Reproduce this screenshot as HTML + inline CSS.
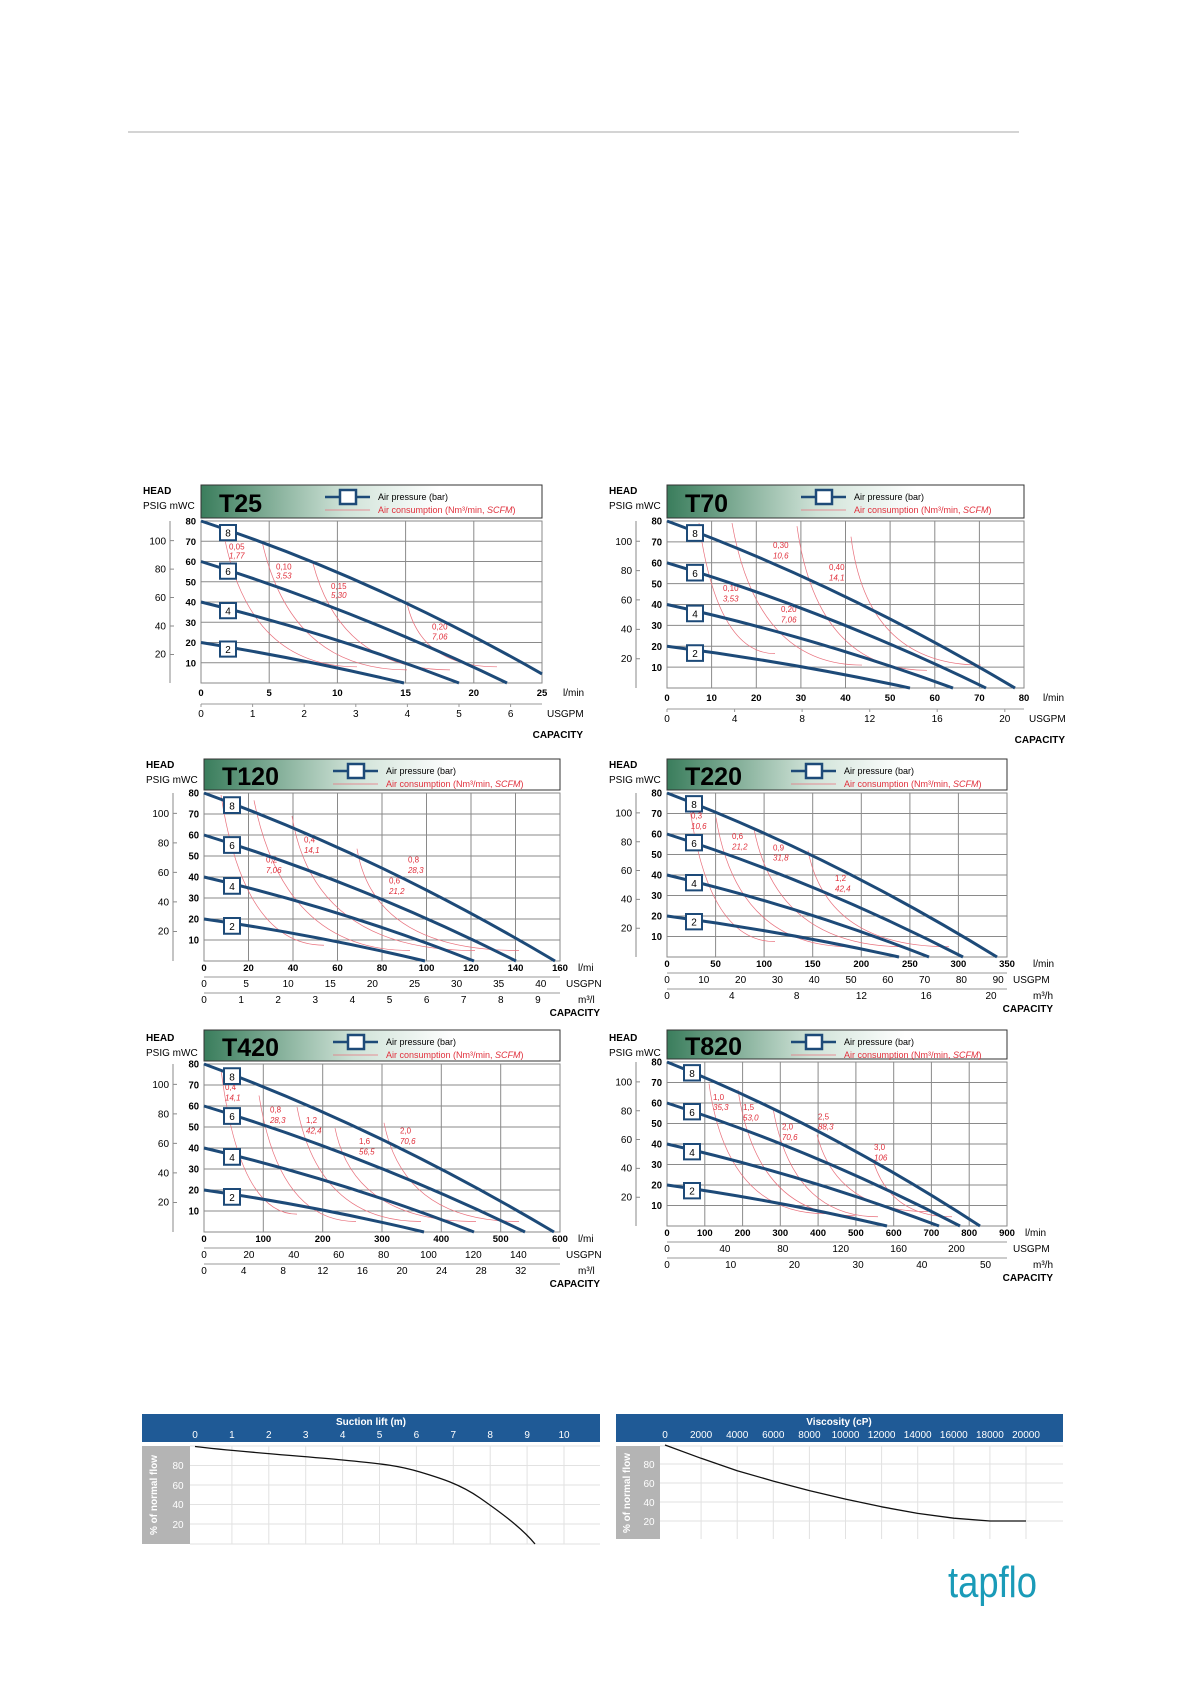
<!DOCTYPE html>
<html><head><meta charset="utf-8"><style>
html,body{margin:0;padding:0;background:#fff}
svg{display:block;font-family:"Liberation Sans",sans-serif}
.hd{font-size:10px;font-weight:bold}
.sm{font-size:10px}
.tt{font-size:25px;font-weight:bold}
.lg{font-size:9px}
.lr{font-size:9px;fill:#e0303c}
.yl{font-size:9.5px;font-weight:bold;text-anchor:end}
.pl{font-size:10px;text-anchor:end}
.xl{font-size:9.5px;font-weight:bold;text-anchor:middle}
.ul{font-size:10px;text-anchor:middle}
.un{font-size:10px}
.cap{font-size:10px;font-weight:bold;text-anchor:end}
.rl{font-size:8px;fill:#e0303c}
.bx{font-size:10px;text-anchor:middle}
.g{stroke:#8a8a8a;stroke-width:1;fill:none;vector-effect:non-scaling-stroke}
.c{stroke:#1d4a78;stroke-width:3;fill:none;vector-effect:non-scaling-stroke}
.r{stroke:#e8707c;stroke-width:.7;fill:none;vector-effect:non-scaling-stroke}
.bxr{fill:#fff;stroke:#1d4a78;stroke-width:2;vector-effect:non-scaling-stroke}
.wt{fill:#fff;font-size:10px;text-anchor:middle}
.gl{stroke:#e2e2e2;stroke-width:1;fill:none}
</style></head><body>
<svg width="1191" height="1684" viewBox="0 0 1191 1684" xmlns="http://www.w3.org/2000/svg">
<defs>
<linearGradient id="hg" x1="0" x2="1" y1="0" y2="0"><stop offset="0" stop-color="#3a7d5c"/><stop offset=".42" stop-color="#cfe2d7"/><stop offset=".7" stop-color="#fff"/></linearGradient>
<g id="leg">
<line x1="124" y1="12" x2="169" y2="12" stroke="#1d4a78" stroke-width="2.5"/>
<rect x="139" y="5" width="16" height="14" fill="#fff" stroke="#1d4a78" stroke-width="2.5"/>
<text x="177" y="15" class="lg">Air pressure (bar)</text>
<line x1="124" y1="25" x2="169" y2="25" stroke="#e8707c" stroke-width=".7"/>
<text x="177" y="28" class="lr">Air consumption (Nm³/min, <tspan font-style="italic">SCFM</tspan>)</text>
</g>
<g id="yax">
<text x="-5" y="3.5" class="yl">80</text><text x="-5" y="23.5" class="yl">70</text><text x="-5" y="43.5" class="yl">60</text><text x="-5" y="63.5" class="yl">50</text><text x="-5" y="83.5" class="yl">40</text><text x="-5" y="103.5" class="yl">30</text><text x="-5" y="123.5" class="yl">20</text><text x="-5" y="143.5" class="yl">10</text>
<path class="g" d="M-31,0V160M-31,19.4h4M-31,47.5h4M-31,75.6h4M-31,103.75h4M-31,131.9h4" stroke="#999"/>
<text x="-35" y="23" class="pl">100</text><text x="-35" y="51" class="pl">80</text><text x="-35" y="79" class="pl">60</text><text x="-35" y="107" class="pl">40</text><text x="-35" y="135" class="pl">20</text>
</g>
</defs>

<line x1="128" y1="132" x2="1019" y2="132" stroke="#aaa" stroke-width="1"/>

<!-- T25 -->
<g transform="translate(201,485)">
<text x="-58" y="9" class="hd">HEAD</text><text x="-58" y="24" class="sm">PSIG  mWC</text>
<rect x="0" y="0" width="341" height="33" fill="url(#hg)" stroke="#333"/>
<text x="18" y="27" class="tt">T25</text>
<use href="#leg"/>
<g transform="translate(0,36) scale(1,1.0125)">
<rect x="0" y="0" width="341" height="160" fill="#fff" class="g" stroke="#333"/>
<path class="g" d="M0,20H341M0,40H341M0,60H341M0,80H341M0,100H341M0,120H341M0,140H341M68.2,0V160M136.4,0V160M204.6,0V160M272.8,0V160"/>
<use href="#yax"/>
<path class="r" d="M24,19Q50,144 156,144M61,20Q90,147 206,147M112,42Q140,147 249,147M206,81Q220,144 296,144"/>
<text x="28" y="28" class="rl">0,05</text><text x="28" y="37" class="rl" font-style="italic">1,77</text>
<text x="75" y="48" class="rl">0,10</text><text x="75" y="57" class="rl" font-style="italic">3,53</text>
<text x="130" y="67" class="rl">0,15</text><text x="130" y="76" class="rl" font-style="italic">5,30</text>
<text x="231" y="107" class="rl">0,20</text><text x="231" y="117" class="rl" font-style="italic">7,06</text>
<path class="c" d="M0,0Q170,55 341,151M0,40Q153,87 306,160M0,80Q129,111 258,160M0,120Q101,136 203,160"/>
<rect x="19" y="4" width="16" height="15" class="bxr"/><text x="27" y="15.5" class="bx">8</text>
<rect x="19" y="42" width="16" height="15" class="bxr"/><text x="27" y="53.5" class="bx">6</text>
<rect x="19" y="81" width="16" height="15" class="bxr"/><text x="27" y="92.5" class="bx">4</text>
<rect x="19" y="119" width="16" height="15" class="bxr"/><text x="27" y="130.5" class="bx">2</text>
</g>
<g transform="translate(0,198)">
<text x="0" y="13" class="xl">0</text><text x="68.2" y="13" class="xl">5</text><text x="136.4" y="13" class="xl">10</text><text x="204.6" y="13" class="xl">15</text><text x="272.8" y="13" class="xl">20</text><text x="341" y="13" class="xl">25</text><text x="362" y="13" class="un">l/min</text>
<path d="M0,21H341M0,21v3M51.6,21v3M103.2,21v3M154.8,21v3M206.4,21v3M258,21v3M309.6,21v3" stroke="#999" fill="none"/>
<text x="0" y="34" class="ul">0</text><text x="51.6" y="34" class="ul">1</text><text x="103.2" y="34" class="ul">2</text><text x="154.8" y="34" class="ul">3</text><text x="206.4" y="34" class="ul">4</text><text x="258" y="34" class="ul">5</text><text x="309.6" y="34" class="ul">6</text><text x="346" y="34" class="un">USGPM</text>
<text x="382" y="55" class="cap">CAPACITY</text>
</g>
</g>

<!-- T70 -->
<g transform="translate(667,485)">
<text x="-58" y="9" class="hd">HEAD</text><text x="-58" y="24" class="sm">PSIG  mWC</text>
<rect x="0" y="0" width="357" height="33" fill="url(#hg)" stroke="#333"/>
<text x="18" y="27" class="tt">T70</text>
<use href="#leg" transform="translate(10,0)"/>
<g transform="translate(0,36) scale(1,1.044)">
<rect x="0" y="0" width="357" height="160" fill="#fff" class="g" stroke="#333"/>
<path class="g" d="M0,20H357M0,40H357M0,60H357M0,80H357M0,100H357M0,120H357M0,140H357M44.6,0V160M89.3,0V160M133.9,0V160M178.5,0V160M223.1,0V160M267.8,0V160M312.4,0V160"/>
<use href="#yax"/>
<path class="r" d="M32,2Q50,127 108,127M65,2Q90,138 195,138M130,5Q150,143 260,143M184,15Q200,138 314,138"/>
<text x="106" y="26" class="rl">0,30</text><text x="106" y="36" class="rl" font-style="italic">10,6</text>
<text x="162" y="47" class="rl">0,40</text><text x="162" y="57" class="rl" font-style="italic">14,1</text>
<text x="56" y="67" class="rl">0,10</text><text x="56" y="77" class="rl" font-style="italic">3,53</text>
<text x="114" y="87" class="rl">0,20</text><text x="114" y="97" class="rl" font-style="italic">7,06</text>
<path class="c" d="M0,0Q174,61 348,160M0,40Q160,86 319,160M0,80Q143,110 286,160M0,120Q122,135 243,160"/>
<rect x="20" y="4" width="16" height="15" class="bxr"/><text x="28" y="15.5" class="bx">8</text>
<rect x="20" y="42" width="16" height="15" class="bxr"/><text x="28" y="53.5" class="bx">6</text>
<rect x="20" y="81" width="16" height="15" class="bxr"/><text x="28" y="92.5" class="bx">4</text>
<rect x="20" y="119" width="16" height="15" class="bxr"/><text x="28" y="130.5" class="bx">2</text>
</g>
<g transform="translate(0,203)">
<text x="0" y="13" class="xl">0</text><text x="44.6" y="13" class="xl">10</text><text x="89.3" y="13" class="xl">20</text><text x="133.9" y="13" class="xl">30</text><text x="178.5" y="13" class="xl">40</text><text x="223.1" y="13" class="xl">50</text><text x="267.8" y="13" class="xl">60</text><text x="312.4" y="13" class="xl">70</text><text x="357" y="13" class="xl">80</text><text x="376" y="13" class="un">l/min</text>
<path d="M0,21H357M0,21v3M67.6,21v3M135.1,21v3M202.7,21v3M270.2,21v3M337.8,21v3" stroke="#999" fill="none"/>
<text x="0" y="34" class="ul">0</text><text x="67.6" y="34" class="ul">4</text><text x="135.1" y="34" class="ul">8</text><text x="202.7" y="34" class="ul">12</text><text x="270.2" y="34" class="ul">16</text><text x="337.8" y="34" class="ul">20</text><text x="362" y="34" class="un">USGPM</text>
<text x="398" y="55" class="cap">CAPACITY</text>
</g>
</g>

<!-- T120 -->
<g transform="translate(204,759)">
<text x="-58" y="9" class="hd">HEAD</text><text x="-58" y="24" class="sm">PSIG  mWC</text>
<rect x="0" y="0" width="356" height="31" fill="url(#hg)" stroke="#333"/>
<text x="18" y="26" class="tt">T120</text>
<use href="#leg" transform="translate(5,0)"/>
<g transform="translate(0,34) scale(1,1.05)">
<rect x="0" y="0" width="356" height="160" fill="#fff" class="g" stroke="#333"/>
<path class="g" d="M0,20H356M0,40H356M0,60H356M0,80H356M0,100H356M0,120H356M0,140H356M44.5,0V160M89,0V160M133.5,0V160M178,0V160M222.5,0V160M267,0V160M311.5,0V160"/>
<use href="#yax"/>
<path class="r" d="M17,2Q40,145 120,145M50,7Q80,150 206,150M88,22Q110,150 271,150M153,53Q170,150 315,150"/>
<text x="100" y="47" class="rl">0,4</text><text x="100" y="57" class="rl" font-style="italic">14,1</text>
<text x="204" y="66" class="rl">0,8</text><text x="204" y="76" class="rl" font-style="italic">28,3</text>
<text x="62" y="66" class="rl">0,2</text><text x="62" y="76" class="rl" font-style="italic">7,06</text>
<text x="185" y="86" class="rl">0,6</text><text x="185" y="96" class="rl" font-style="italic">21,2</text>
<path class="c" d="M0,0Q176,61 351,160M0,40Q157,86 312,160M0,80Q136,110 270,160M0,120Q111,135 221,160"/>
<rect x="20" y="4" width="16" height="15" class="bxr"/><text x="28" y="15.5" class="bx">8</text>
<rect x="20" y="42" width="16" height="15" class="bxr"/><text x="28" y="53.5" class="bx">6</text>
<rect x="20" y="81" width="16" height="15" class="bxr"/><text x="28" y="92.5" class="bx">4</text>
<rect x="20" y="119" width="16" height="15" class="bxr"/><text x="28" y="130.5" class="bx">2</text>
</g>
<g transform="translate(0,202)">
<text x="0" y="10" class="xl">0</text><text x="44.5" y="10" class="xl">20</text><text x="89" y="10" class="xl">40</text><text x="133.5" y="10" class="xl">60</text><text x="178" y="10" class="xl">80</text><text x="222.5" y="10" class="xl">100</text><text x="267" y="10" class="xl">120</text><text x="311.5" y="10" class="xl">140</text><text x="356" y="10" class="xl">160</text><text x="374" y="10" class="un">l/mi</text>
<path d="M0,16H356M0,32H356" stroke="#999" fill="none"/>
<text x="0" y="26" class="ul">0</text><text x="42.1" y="26" class="ul">5</text><text x="84.2" y="26" class="ul">10</text><text x="126.3" y="26" class="ul">15</text><text x="168.4" y="26" class="ul">20</text><text x="210.5" y="26" class="ul">25</text><text x="252.6" y="26" class="ul">30</text><text x="294.7" y="26" class="ul">35</text><text x="336.8" y="26" class="ul">40</text><text x="362" y="26" class="un">USGPN</text>
<text x="0" y="42" class="ul">0</text><text x="37.1" y="42" class="ul">1</text><text x="74.2" y="42" class="ul">2</text><text x="111.3" y="42" class="ul">3</text><text x="148.4" y="42" class="ul">4</text><text x="185.5" y="42" class="ul">5</text><text x="222.6" y="42" class="ul">6</text><text x="259.7" y="42" class="ul">7</text><text x="296.8" y="42" class="ul">8</text><text x="333.9" y="42" class="ul">9</text><text x="374" y="42" class="un">m³/l</text>
<text x="396" y="55" class="cap">CAPACITY</text>
</g>
</g>

<!-- T220 -->
<g transform="translate(667,759)">
<text x="-58" y="9" class="hd">HEAD</text><text x="-58" y="24" class="sm">PSIG  mWC</text>
<rect x="0" y="0" width="340" height="31" fill="url(#hg)" stroke="#333"/>
<text x="18" y="26" class="tt">T220</text>
<use href="#leg"/>
<g transform="translate(0,34) scale(1,1.025)">
<rect x="0" y="0" width="340" height="160" fill="#fff" class="g" stroke="#333"/>
<path class="g" d="M0,20H340M0,40H340M0,60H340M0,80H340M0,100H340M0,120H340M0,140H340M48.6,0V160M97.1,0V160M145.7,0V160M194.3,0V160M242.9,0V160M291.4,0V160"/>
<use href="#yax"/>
<path class="r" d="M22,8Q40,145 108,145M49,24Q70,150 184,150M87,35Q110,150 238,150M141,56Q160,150 282,150"/>
<text x="24" y="25" class="rl">0,3</text><text x="24" y="35" class="rl" font-style="italic">10,6</text>
<text x="65" y="45" class="rl">0,6</text><text x="65" y="55" class="rl" font-style="italic">21,2</text>
<text x="106" y="56" class="rl">0,9</text><text x="106" y="66" class="rl" font-style="italic">31,8</text>
<text x="168" y="86" class="rl">1,2</text><text x="168" y="96" class="rl" font-style="italic">42,4</text>
<path class="c" d="M0,0Q165,61 330,160M0,40Q148,86 296,160M0,80Q131,110 262,160M0,120Q116,135 232,160"/>
<rect x="19" y="3" width="16" height="15" class="bxr"/><text x="27" y="14.5" class="bx">8</text>
<rect x="19" y="41" width="16" height="15" class="bxr"/><text x="27" y="52.5" class="bx">6</text>
<rect x="19" y="80" width="16" height="15" class="bxr"/><text x="27" y="91.5" class="bx">4</text>
<rect x="19" y="118" width="16" height="15" class="bxr"/><text x="27" y="129.5" class="bx">2</text>
</g>
<g transform="translate(0,198)">
<text x="0" y="10" class="xl">0</text><text x="48.6" y="10" class="xl">50</text><text x="97.1" y="10" class="xl">100</text><text x="145.7" y="10" class="xl">150</text><text x="194.3" y="10" class="xl">200</text><text x="242.9" y="10" class="xl">250</text><text x="291.4" y="10" class="xl">300</text><text x="340" y="10" class="xl">350</text><text x="366" y="10" class="un">l/min</text>
<path d="M0,16H340M0,32H340" stroke="#999" fill="none"/>
<text x="0" y="26" class="ul">0</text><text x="36.8" y="26" class="ul">10</text><text x="73.6" y="26" class="ul">20</text><text x="110.4" y="26" class="ul">30</text><text x="147.2" y="26" class="ul">40</text><text x="184" y="26" class="ul">50</text><text x="220.8" y="26" class="ul">60</text><text x="257.6" y="26" class="ul">70</text><text x="294.4" y="26" class="ul">80</text><text x="331.2" y="26" class="ul">90</text><text x="346" y="26" class="un">USGPM</text>
<text x="0" y="42" class="ul">0</text><text x="64.8" y="42" class="ul">4</text><text x="129.6" y="42" class="ul">8</text><text x="194.4" y="42" class="ul">12</text><text x="259.2" y="42" class="ul">16</text><text x="324" y="42" class="ul">20</text><text x="366" y="42" class="un">m³/h</text>
<text x="386" y="55" class="cap">CAPACITY</text>
</g>
</g>

<!-- T420 -->
<g transform="translate(204,1030)">
<text x="-58" y="11" class="hd">HEAD</text><text x="-58" y="26" class="sm">PSIG  mWC</text>
<rect x="0" y="0" width="356" height="31" fill="url(#hg)" stroke="#333"/>
<text x="18" y="26" class="tt">T420</text>
<use href="#leg" transform="translate(5,0)"/>
<g transform="translate(0,34) scale(1,1.05)">
<rect x="0" y="0" width="356" height="160" fill="#fff" class="g" stroke="#333"/>
<path class="g" d="M0,20H356M0,40H356M0,60H356M0,80H356M0,100H356M0,120H356M0,140H356M59.3,0V160M118.7,0V160M178,0V160M237.3,0V160M296.7,0V160"/>
<use href="#yax"/>
<path class="r" d="M17,5Q35,143 93,143M55,30Q75,150 152,150M93,41Q115,150 217,150M131,61Q150,150 272,150M180,56Q200,150 315,150"/>
<text x="21" y="25" class="rl">0,4</text><text x="21" y="35" class="rl" font-style="italic">14,1</text>
<text x="66" y="46" class="rl">0,8</text><text x="66" y="56" class="rl" font-style="italic">28,3</text>
<text x="102" y="56" class="rl">1,2</text><text x="102" y="66" class="rl" font-style="italic">42,4</text>
<text x="155" y="76" class="rl">1,6</text><text x="155" y="86" class="rl" font-style="italic">56,5</text>
<text x="196" y="66" class="rl">2,0</text><text x="196" y="76" class="rl" font-style="italic">70,6</text>
<path class="c" d="M0,0Q175,61 350,160M0,40Q160,86 321,160M0,80Q135,110 270,160M0,120Q110,135 220,160"/>
<rect x="20" y="4" width="16" height="15" class="bxr"/><text x="28" y="15.5" class="bx">8</text>
<rect x="20" y="42" width="16" height="15" class="bxr"/><text x="28" y="53.5" class="bx">6</text>
<rect x="20" y="81" width="16" height="15" class="bxr"/><text x="28" y="92.5" class="bx">4</text>
<rect x="20" y="119" width="16" height="15" class="bxr"/><text x="28" y="130.5" class="bx">2</text>
</g>
<g transform="translate(0,202)">
<text x="0" y="10" class="xl">0</text><text x="59.3" y="10" class="xl">100</text><text x="118.7" y="10" class="xl">200</text><text x="178" y="10" class="xl">300</text><text x="237.3" y="10" class="xl">400</text><text x="296.7" y="10" class="xl">500</text><text x="356" y="10" class="xl">600</text><text x="374" y="10" class="un">l/mi</text>
<path d="M0,16H356M0,32H356" stroke="#999" fill="none"/>
<text x="0" y="26" class="ul">0</text><text x="44.9" y="26" class="ul">20</text><text x="89.8" y="26" class="ul">40</text><text x="134.7" y="26" class="ul">60</text><text x="179.6" y="26" class="ul">80</text><text x="224.5" y="26" class="ul">100</text><text x="269.4" y="26" class="ul">120</text><text x="314.3" y="26" class="ul">140</text><text x="362" y="26" class="un">USGPN</text>
<text x="0" y="42" class="ul">0</text><text x="39.6" y="42" class="ul">4</text><text x="79.2" y="42" class="ul">8</text><text x="118.8" y="42" class="ul">12</text><text x="158.4" y="42" class="ul">16</text><text x="198" y="42" class="ul">20</text><text x="237.6" y="42" class="ul">24</text><text x="277.2" y="42" class="ul">28</text><text x="316.8" y="42" class="ul">32</text><text x="374" y="42" class="un">m³/l</text>
<text x="396" y="55" class="cap">CAPACITY</text>
</g>
</g>

<!-- T820 -->
<g transform="translate(667,1030)">
<text x="-58" y="11" class="hd">HEAD</text><text x="-58" y="26" class="sm">PSIG  mWC</text>
<rect x="0" y="0" width="340" height="29" fill="url(#hg)" stroke="#333"/>
<text x="18" y="25" class="tt">T820</text>
<use href="#leg"/>
<g transform="translate(0,32) scale(1,1.025)">
<rect x="0" y="0" width="340" height="160" fill="#fff" class="g" stroke="#333"/>
<path class="g" d="M0,20H340M0,40H340M0,60H340M0,80H340M0,100H340M0,120H340M0,140H340M37.8,0V160M75.6,0V160M113.3,0V160M151.1,0V160M188.9,0V160M226.7,0V160M264.4,0V160M302.2,0V160"/>
<use href="#yax"/>
<path class="r" d="M42,21Q60,148 158,148M71,27Q90,150 188,150M106,45Q125,151 211,151M150,71Q170,146 261,146M207,99Q225,151 285,151"/>
<text x="46" y="37" class="rl">1,0</text><text x="46" y="47" class="rl" font-style="italic">35,3</text>
<text x="76" y="47" class="rl">1,5</text><text x="76" y="57" class="rl" font-style="italic">53,0</text>
<text x="115" y="66" class="rl">2,0</text><text x="115" y="76" class="rl" font-style="italic">70,6</text>
<text x="151" y="56" class="rl">2,5</text><text x="151" y="66" class="rl" font-style="italic">88,3</text>
<text x="207" y="86" class="rl">3,0</text><text x="207" y="96" class="rl" font-style="italic">106</text>
<path class="c" d="M0,0Q157,61 313,160M0,40Q147,86 293,160M0,80Q136,110 272,160M0,120Q110,135 220,160"/>
<rect x="17" y="3" width="16" height="15" class="bxr"/><text x="25" y="14.5" class="bx">8</text>
<rect x="17" y="41" width="16" height="15" class="bxr"/><text x="25" y="52.5" class="bx">6</text>
<rect x="17" y="80" width="16" height="15" class="bxr"/><text x="25" y="91.5" class="bx">4</text>
<rect x="17" y="118" width="16" height="15" class="bxr"/><text x="25" y="129.5" class="bx">2</text>
</g>
<g transform="translate(0,196)">
<text x="0" y="10" class="xl">0</text><text x="37.8" y="10" class="xl">100</text><text x="75.6" y="10" class="xl">200</text><text x="113.3" y="10" class="xl">300</text><text x="151.1" y="10" class="xl">400</text><text x="188.9" y="10" class="xl">500</text><text x="226.7" y="10" class="xl">600</text><text x="264.4" y="10" class="xl">700</text><text x="302.2" y="10" class="xl">800</text><text x="340" y="10" class="xl">900</text><text x="358" y="10" class="un">l/min</text>
<path d="M0,16H340M0,32H340" stroke="#999" fill="none"/>
<text x="0" y="26" class="ul">0</text><text x="57.9" y="26" class="ul">40</text><text x="115.8" y="26" class="ul">80</text><text x="173.7" y="26" class="ul">120</text><text x="231.6" y="26" class="ul">160</text><text x="289.5" y="26" class="ul">200</text><text x="346" y="26" class="un">USGPM</text>
<text x="0" y="42" class="ul">0</text><text x="63.7" y="42" class="ul">10</text><text x="127.4" y="42" class="ul">20</text><text x="191.1" y="42" class="ul">30</text><text x="254.8" y="42" class="ul">40</text><text x="318.5" y="42" class="ul">50</text><text x="366" y="42" class="un">m³/h</text>
<text x="386" y="55" class="cap">CAPACITY</text>
</g>
</g>

<!-- Suction lift -->
<g transform="translate(0,-12)">
<rect x="142" y="1426" width="458" height="28" fill="#1f5a96"/>
<text x="371" y="1437" class="wt" font-weight="bold">Suction lift (m)</text>
<g class="wt"><text x="195" y="1450">0</text><text x="231.9" y="1450">1</text><text x="268.8" y="1450">2</text><text x="305.7" y="1450">3</text><text x="342.6" y="1450">4</text><text x="379.5" y="1450">5</text><text x="416.4" y="1450">6</text><text x="453.3" y="1450">7</text><text x="490.2" y="1450">8</text><text x="527.1" y="1450">9</text><text x="564" y="1450">10</text></g>
<path class="gl" d="M190,1458H600M190,1477.5H600M190,1497H600M190,1516.5H600M190,1536H600M190,1556H600M231.9,1458V1556M268.8,1458V1556M305.7,1458V1556M342.6,1458V1556M379.5,1458V1556M416.4,1458V1556M453.3,1458V1556M490.2,1458V1556M527.1,1458V1556M564,1458V1556"/>
<rect x="142" y="1458" width="48" height="98" fill="#b4b4b4"/>
<text transform="translate(157,1507) rotate(-90)" class="wt" font-weight="bold" font-size="9">% of normal flow</text>
<g class="wt" fill="#e8e8e8"><text x="178" y="1481">80</text><text x="178" y="1501">60</text><text x="178" y="1520">40</text><text x="178" y="1540">20</text></g>
<path d="M195,1458.5C230,1463 300,1468 342.6,1472S400,1478 420,1484S460,1496 480,1510S522,1540 535,1556" stroke="#111" stroke-width="1.3" fill="none"/>
</g>

<!-- Viscosity -->
<g transform="translate(-6,-12)">
<rect x="622" y="1426" width="447" height="28" fill="#1f5a96"/>
<text x="845" y="1437" class="wt" font-weight="bold">Viscosity (cP)</text>
<g class="wt" font-size="9.5"><text x="671" y="1450">0</text><text x="707.1" y="1450">2000</text><text x="743.2" y="1450">4000</text><text x="779.3" y="1450">6000</text><text x="815.4" y="1450">8000</text><text x="851.5" y="1450">10000</text><text x="887.6" y="1450">12000</text><text x="923.7" y="1450">14000</text><text x="959.8" y="1450">16000</text><text x="995.9" y="1450">18000</text><text x="1032" y="1450">20000</text></g>
<path class="gl" d="M666,1458H1069M666,1476H1069M666,1495H1069M666,1514H1069M666,1533H1069M707.1,1458V1551M743.2,1458V1551M779.3,1458V1551M815.4,1458V1551M851.5,1458V1551M887.6,1458V1551M923.7,1458V1551M959.8,1458V1551M995.9,1458V1551M1032,1458V1551"/>
<rect x="622" y="1458" width="44" height="93" fill="#b4b4b4"/>
<text transform="translate(636,1505) rotate(-90)" class="wt" font-weight="bold" font-size="9">% of normal flow</text>
<g class="wt" fill="#e8e8e8"><text x="655" y="1480">80</text><text x="655" y="1499">60</text><text x="655" y="1518">40</text><text x="655" y="1537">20</text></g>
<polyline points="671,1457 707.1,1470.3 743.2,1482.7 779.3,1493.1 815.4,1502.6 851.5,1511.1 887.6,1518.8 923.7,1525.4 959.8,1530.2 995.9,1533 1032,1533" stroke="#111" stroke-width="1.3" fill="none" stroke-linejoin="round"/>
</g>

<text x="948" y="1597" font-size="44" fill="#1a9bb8" textLength="89" lengthAdjust="spacingAndGlyphs" font-family="Liberation Sans Narrow, Liberation Sans, sans-serif">tapflo</text>
</svg>
</body></html>
